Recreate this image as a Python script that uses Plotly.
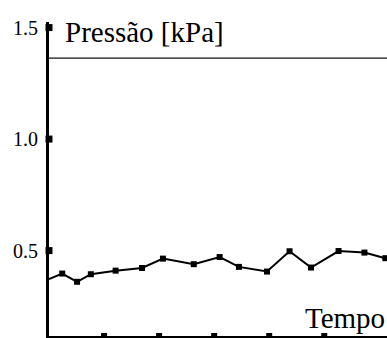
import plotly.graph_objects as go

# Data
tempo = [0, 2.4, 5.1, 7.6, 12.1, 16.9, 20.7, 26.3, 31.0, 34.5, 39.6, 43.7, 47.6, 52.6, 57.3, 61.1]
pressao = [0.372, 0.397, 0.360, 0.394, 0.410, 0.422, 0.464, 0.439, 0.471, 0.427,
           0.406, 0.497, 0.424, 0.498, 0.491, 0.466]

y_tick_vals = [0.5, 1.0, 1.5]
y_tick_text = ["0.5", "1.0", "1.5"]
x_tick_vals = [10, 20, 30, 40, 50]
reference_level = 1.363

y_range = [0.117, 1.525]
x_range = [0, 61.4]

serif = "Times New Roman"

fig = go.Figure()

# connecting line
fig.add_trace(go.Scatter(x=tempo, y=pressao, mode="lines",
                         line=dict(color="black", width=2), showlegend=False,
                         hoverinfo="skip"))
# markers (first point lies on the axis)
fig.add_trace(go.Scatter(x=tempo[1:], y=pressao[1:], mode="markers",
                         marker=dict(symbol="square", size=6, color="black"),
                         showlegend=False))

# square tick marks on the axes
fig.add_trace(go.Scatter(x=[0] * len(y_tick_vals), y=y_tick_vals, mode="markers",
                         marker=dict(symbol="square", size=7, color="black"),
                         cliponaxis=False, showlegend=False, hoverinfo="skip"))
fig.add_trace(go.Scatter(x=x_tick_vals, y=[y_range[0]] * len(x_tick_vals), mode="markers",
                         marker=dict(symbol="square", size=6, color="black"),
                         cliponaxis=False, showlegend=False, hoverinfo="skip"))

fig.add_shape(type="line", xref="paper", x0=0, x1=1, yref="y",
              y0=reference_level, y1=reference_level,
              line=dict(color="#111111", width=1.2))

fig.add_annotation(text="Pressão [kPa]", xref="paper", yref="paper",
                   x=0.04, y=0.968, xanchor="left", yanchor="middle",
                   showarrow=False, font=dict(family=serif, size=29, color="black"))
fig.add_annotation(text="Tempo", xref="paper", yref="paper",
                   x=1.0, y=0.057, xanchor="right", yanchor="middle",
                   showarrow=False, font=dict(family=serif, size=29, color="black"))

fig.update_layout(
    width=387, height=338,
    margin=dict(l=49, r=0, t=22, b=2, pad=0),
    paper_bgcolor="white", plot_bgcolor="white",
    font=dict(family=serif),
    xaxis=dict(range=x_range, showgrid=False, zeroline=False, showline=True,
               linecolor="black", linewidth=2.5, showticklabels=False, ticks=""),
    yaxis=dict(range=y_range, showgrid=False, zeroline=False, showline=True,
               linecolor="black", linewidth=3, tickvals=y_tick_vals, ticktext=y_tick_text,
               ticks="outside", ticklen=4, tickcolor="rgba(0,0,0,0)",
               tickfont=dict(family=serif, size=20, color="black")),
)

fig.write_html("out.html")
